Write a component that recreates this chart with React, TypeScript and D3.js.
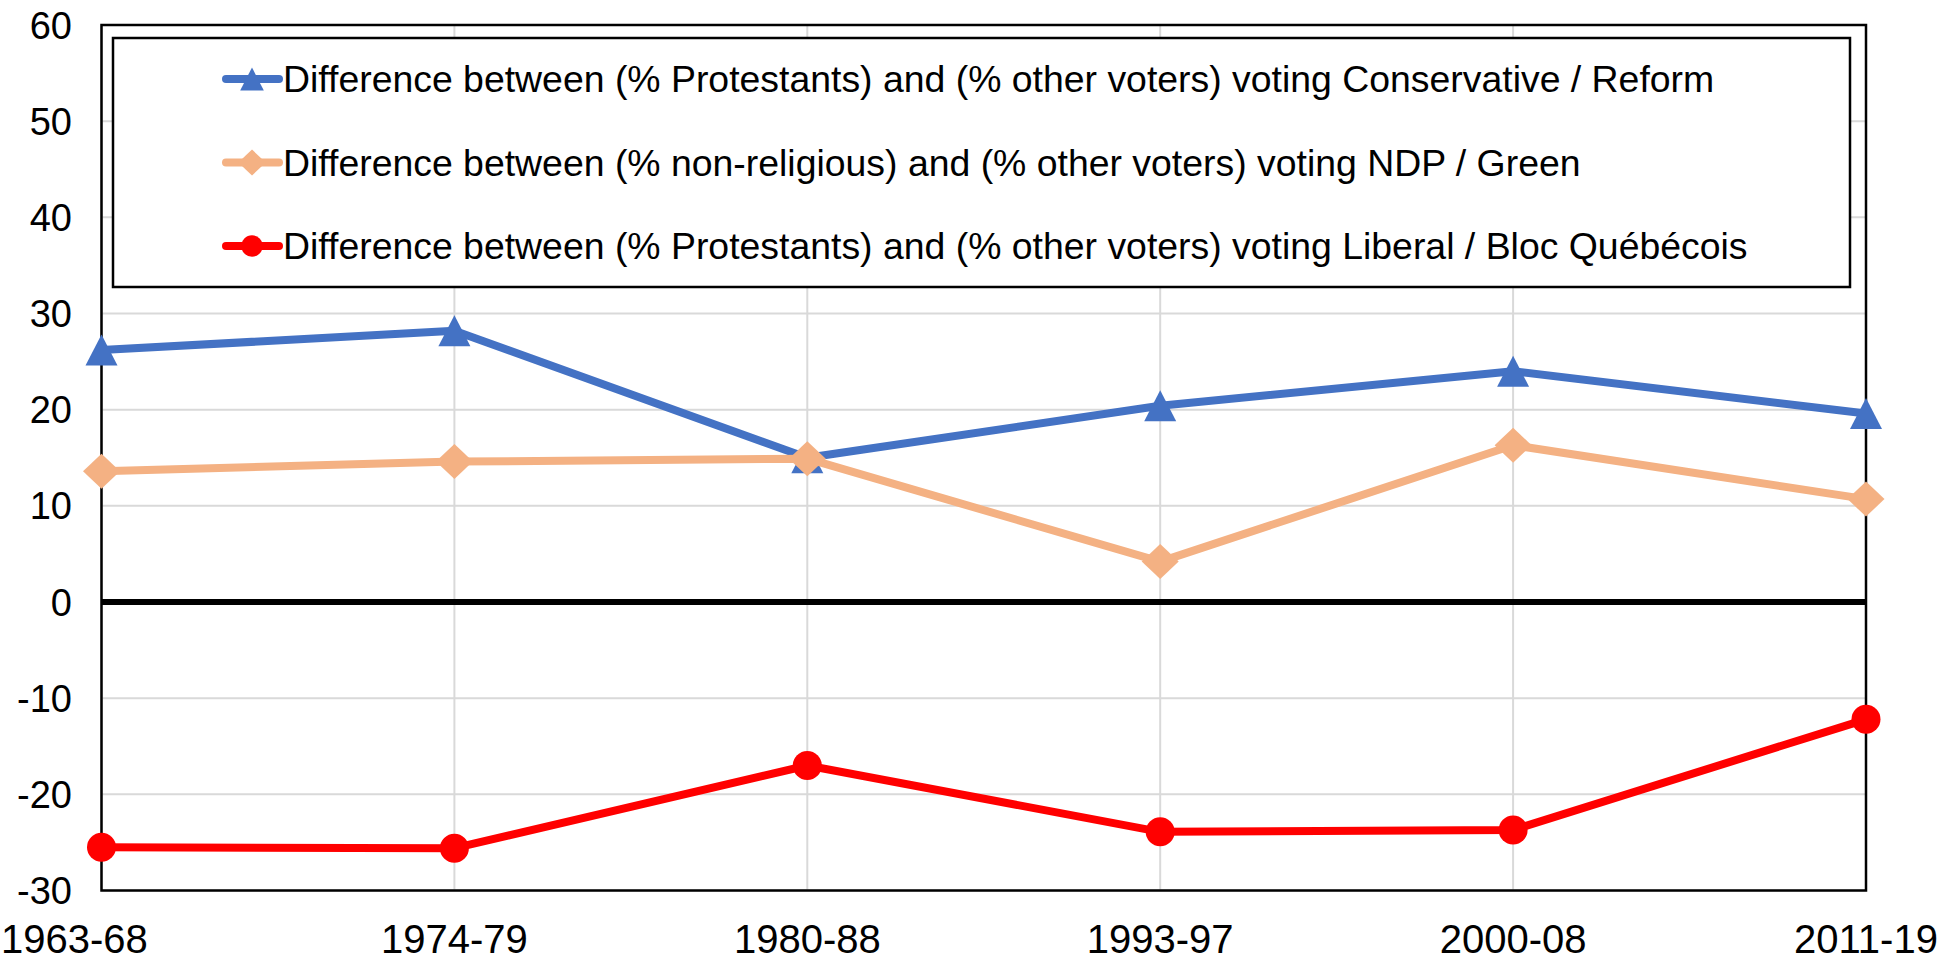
import React from "react";
import * as d3 from "d3";

const categories = ["1963-68", "1974-79", "1980-88", "1993-97", "2000-08", "2011-19"];
const conservative = [26.2, 28.2, 15.0, 20.4, 24.0, 19.6];
const ndp = [13.6, 14.6, 14.9, 4.2, 16.3, 10.7];
const liberal = [-25.5, -25.6, -17.0, -23.9, -23.7, -12.2];
const yTicks = [-30, -20, -10, 0, 10, 20, 30, 40, 50, 60];
const legendLabels = [
  "Difference between (% Protestants) and (% other voters) voting Conservative / Reform",
  "Difference between (% non-religious) and (% other voters) voting NDP / Green",
  "Difference between (% Protestants) and (% other voters) voting Liberal / Bloc Québécois",
];

const W = 1953;
const H = 962;
const left = 101.5;
const right = 1866;
const top = 25;
const bottom = 890.5;

const BLUE = "#4472C4";
const PEACH = "#F4B183";
const RED = "#FF0000";
const FONT = "'Liberation Sans', Arial, sans-serif";

type Kind = "triangle" | "diamond" | "circle";

function markerPath(kind: Kind, x: number, y: number, s: number): string {
  if (kind === "triangle") {
    const w = 32 * s, h = 31 * s;
    return `M${x},${y - h / 2}L${x + w / 2},${y + h / 2}L${x - w / 2},${y + h / 2}Z`;
  }
  if (kind === "diamond") {
    const w = 37 * s, h = 35 * s;
    return `M${x},${y - h / 2}L${x + w / 2},${y}L${x},${y + h / 2}L${x - w / 2},${y}Z`;
  }
  const r = 14.5 * s;
  return `M${x - r},${y}A${r},${r} 0 1,0 ${x + r},${y}A${r},${r} 0 1,0 ${x - r},${y}Z`;
}

export default function App() {
  const x = d3.scalePoint<string>().domain(categories).range([left, right]);
  const y = d3.scaleLinear().domain([-30, 60]).range([bottom, top]);
  const line = d3
    .line<number>()
    .x((_, i) => x(categories[i]) as number)
    .y((d) => y(d));

  const series: { values: number[]; color: string; kind: Kind; label: string }[] = [
    { values: conservative, color: BLUE, kind: "triangle", label: legendLabels[0] },
    { values: ndp, color: PEACH, kind: "diamond", label: legendLabels[1] },
    { values: liberal, color: RED, kind: "circle", label: legendLabels[2] },
  ];

  const legendX = 113;
  const legendY = 38;
  const legendW = 1850 - 113;
  const legendH = 287 - 38;
  const rowY = [79, 162.5, 246];

  return (
    <div style={{ position: "absolute", left: 0, top: 0 }}>
      <svg width={W} height={H} style={{ display: "block", background: "#fff" }}>
        <rect x={0} y={0} width={W} height={H} fill="#fff" />
        {yTicks.map((t) => (
          <line key={"h" + t} x1={left} x2={right} y1={y(t)} y2={y(t)} stroke="#d9d9d9" strokeWidth={2} />
        ))}
        {categories.map((c) => (
          <line key={"v" + c} x1={x(c)} x2={x(c)} y1={top} y2={bottom} stroke="#d9d9d9" strokeWidth={2} />
        ))}
        <line x1={left} x2={right} y1={y(0)} y2={y(0)} stroke="#000" strokeWidth={6} />
        <rect x={left} y={top} width={right - left} height={bottom - top} fill="none" stroke="#000" strokeWidth={2.5} />

        {yTicks.map((t) => (
          <text
            key={"yl" + t}
            x={72}
            y={y(t) + 13.6}
            textAnchor="end"
            fontFamily={FONT}
            fontSize={38}
            fill="#000"
          >
            {t}
          </text>
        ))}
        {categories.map((c, i) => (
          <text
            key={"xl" + c}
            x={i === 0 ? 1 : (x(c) as number)}
            y={953}
            textAnchor={i === 0 ? "start" : "middle"}
            fontFamily={FONT}
            fontSize={40}
            fill="#000"
          >
            {c}
          </text>
        ))}

        <rect x={legendX} y={legendY} width={legendW} height={legendH} fill="#fff" stroke="#000" strokeWidth={2.5} />
        {series.map((s, i) => (
          <g key={"lg" + i}>
            <line x1={226} x2={279} y1={rowY[i]} y2={rowY[i]} stroke={s.color} strokeWidth={8} strokeLinecap="round" />
            <path d={markerPath(s.kind, 252, rowY[i], 0.74)} fill={s.color} />
            <text x={283} y={rowY[i] + 13.4} fontFamily={FONT} fontSize={37.4} fill="#000">
              {s.label}
            </text>
          </g>
        ))}

        {series.map((s, i) => (
          <g key={"s" + i}>
            <path d={line(s.values) || ""} fill="none" stroke={s.color} strokeWidth={8} strokeLinejoin="round" />
            {s.values.map((v, j) => (
              <path key={j} d={markerPath(s.kind, x(categories[j]) as number, y(v), 1)} fill={s.color} />
            ))}
          </g>
        ))}
      </svg>
    </div>
  );
}
